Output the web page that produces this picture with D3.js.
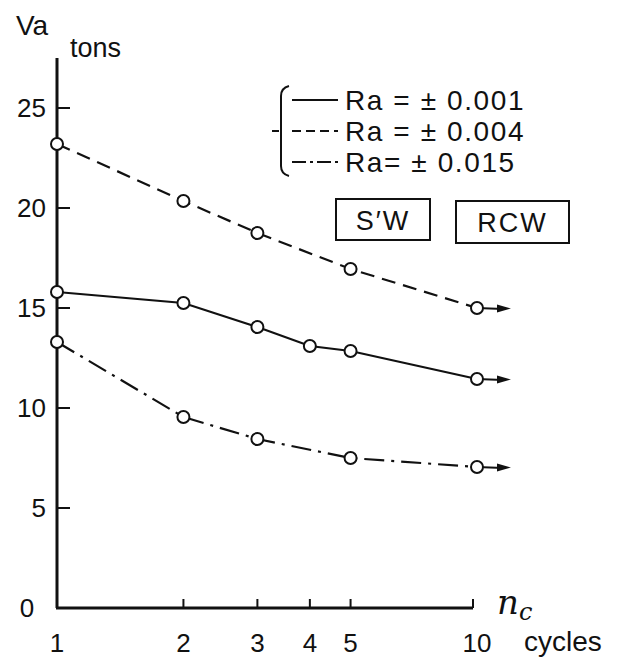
<!DOCTYPE html>
<html>
<head>
<meta charset="utf-8">
<script src="https://cdn.jsdelivr.net/npm/d3@7"></script>
<style>
  body { margin: 0; background: #fff; }
  text { font-family: "Liberation Sans", Arial, sans-serif; fill: #111; }
</style>
</head>
<body>
<svg id="chart" width="629" height="659"></svg>
<script>
// data
var xTicks = [1, 2, 3, 4, 5, 10]
var yTicks = [0, 5, 10, 15, 20, 25]

var cyclesSolid = [1, 2, 3, 4, 5, 10]
var ra001 = [15.8, 15.25, 14.05, 13.1, 12.85, 11.45]

var cyclesDashed = [1, 2, 3, 5, 10]
var ra004 = [23.2, 20.35, 18.75, 16.95, 15.0]

var cyclesDashDot = [1, 2, 3, 5, 10]
var ra015 = [13.3, 9.55, 8.45, 7.5, 7.05]

var legendLabels = ["Ra = \u00b1 0.001", "Ra = \u00b1 0.004", "Ra= \u00b1 0.015"]
var boxLabels = ["S\u2032W", "RCW"]

var svg = d3.select("svg#chart")

var x = d3.scaleLog().domain([1, 10]).range([57, 477])
var y = d3.scaleLinear().domain([0, 27.5]).range([608, 58])

var ink = "#111"

// axes
svg.append("line")
   .attr("x1", x(1)).attr("x2", x(1))
   .attr("y1", y(27.5)).attr("y2", y(0))
   .attr("stroke", ink).attr("stroke-width", 3)
svg.append("line")
   .attr("x1", x(1) - 1).attr("x2", x(10) - 4)
   .attr("y1", y(0)).attr("y2", y(0))
   .attr("stroke", ink).attr("stroke-width", 3)

// y ticks (pointing inward)
svg.selectAll("line.ytick")
   .data(yTicks.filter(function(d){ return d > 0; }))
   .enter().append("line")
   .attr("class", "ytick")
   .attr("x1", x(1)).attr("x2", x(1) + 13)
   .attr("y1", function(d){ return y(d); })
   .attr("y2", function(d){ return y(d); })
   .attr("stroke", ink).attr("stroke-width", 2)

svg.selectAll("text.ylab")
   .data(yTicks)
   .enter().append("text")
   .attr("class", "ylab")
   .attr("x", function(d){ return d == 0 ? 27 : 46; })
   .attr("y", function(d){ return y(d) + 9; })
   .attr("text-anchor", function(d){ return d == 0 ? "middle" : "end"; })
   .attr("font-size", 26)
   .text(function(d){ return d; })

// x ticks (pointing up)
svg.selectAll("line.xtick")
   .data(xTicks.filter(function(d){ return d > 1; }))
   .enter().append("line")
   .attr("class", "xtick")
   .attr("x1", function(d){ return d == 10 ? x(d) - 4 : x(d); })
   .attr("x2", function(d){ return d == 10 ? x(d) - 4 : x(d); })
   .attr("y1", y(0)).attr("y2", y(0) - 9)
   .attr("stroke", ink).attr("stroke-width", 2)

svg.selectAll("text.xlab")
   .data(xTicks)
   .enter().append("text")
   .attr("class", "xlab")
   .attr("x", function(d){ return x(d); })
   .attr("y", 652)
   .attr("text-anchor", "middle")
   .attr("font-size", 26)
   .text(function(d){ return d; })

// axis titles
svg.append("text").attr("x", 16).attr("y", 35).attr("font-size", 28).text("Va")
svg.append("text").attr("x", 70).attr("y", 57).attr("font-size", 27).text("tons")
svg.append("text").attr("x", 497).attr("y", 614)
   .attr("font-size", 34).attr("font-style", "italic")
   .style("font-family", "'DejaVu Serif', 'Liberation Serif', serif")
   .text("n")
svg.append("text").attr("x", 519).attr("y", 620)
   .attr("font-size", 24).attr("font-style", "italic")
   .style("font-family", "'DejaVu Serif', 'Liberation Serif', serif")
   .text("c")
svg.append("text").attr("x", 524).attr("y", 651).attr("font-size", 28).text("cycles")

// series
var series = [
  {xs: cyclesDashed, ys: ra004, dash: "14,8"},
  {xs: cyclesSolid, ys: ra001, dash: null},
  {xs: cyclesDashDot, ys: ra015, dash: "20,7,3,7"}
]

var line = d3.line()
   .x(function(d){ return x(d[0]); })
   .y(function(d){ return y(d[1]); })

series.forEach(function(s){
  var pts = s.xs.map(function(c, i){ return [c, s.ys[i]]; })
  svg.append("path")
     .attr("d", line(pts))
     .attr("fill", "none")
     .attr("stroke", ink)
     .attr("stroke-width", 2.2)
     .attr("stroke-dasharray", s.dash)

  // arrow beyond the last point
  var last = pts[pts.length - 1]
  var ax = x(last[0]), ay = y(last[1])
  svg.append("line")
     .attr("x1", ax).attr("x2", ax + 26)
     .attr("y1", ay).attr("y2", ay + 1)
     .attr("stroke", ink).attr("stroke-width", 2.2)
  svg.append("path")
     .attr("d", "M" + (ax + 20) + "," + (ay - 3.5) + " L" + (ax + 34) + "," + (ay + 0.5) + " L" + (ax + 20) + "," + (ay + 4.5) + " Z")
     .attr("fill", ink)

  svg.selectAll(null)
     .data(pts)
     .enter().append("circle")
     .attr("cx", function(d){ return x(d[0]); })
     .attr("cy", function(d){ return y(d[1]); })
     .attr("r", 6)
     .attr("fill", "#fff")
     .attr("stroke", ink)
     .attr("stroke-width", 2)
})

// legend with brace
var lg = svg.append("g")
lg.append("path")
  .attr("d", "M289,86 Q281,88 281,96 L281,166 Q281,174 289,176")
  .attr("fill", "none").attr("stroke", ink).attr("stroke-width", 2)
lg.append("line").attr("x1", 272).attr("x2", 279).attr("y1", 131).attr("y2", 131)
  .attr("stroke", ink).attr("stroke-width", 2)

var legendDash = [null, "9,5", "14,4,3,4"]
legendLabels.forEach(function(t, i){
  var ly = 100 + i * 31
  lg.append("line")
    .attr("x1", 292).attr("x2", 338)
    .attr("y1", ly).attr("y2", ly)
    .attr("stroke", ink).attr("stroke-width", 2)
    .attr("stroke-dasharray", legendDash[i])
  lg.append("text")
    .attr("x", 345).attr("y", ly + 10)
    .attr("font-size", 28)
    .attr("letter-spacing", 1.6)
    .text(t)
})

// boxes
var boxes = [{x: 336, w: 94, y: 199, h: 41}, {x: 456, w: 113, y: 201, h: 42}]
boxLabels.forEach(function(t, i){
  var b = boxes[i]
  svg.append("rect")
     .attr("x", b.x).attr("y", b.y).attr("width", b.w).attr("height", b.h)
     .attr("fill", "none").attr("stroke", ink).attr("stroke-width", 2)
  svg.append("text")
     .attr("x", b.x + b.w / 2).attr("y", b.y + b.h / 2 + 10)
     .attr("text-anchor", "middle")
     .attr("font-size", 27)
     .attr("letter-spacing", 2)
     .text(t)
})
</script>
</body>
</html>
